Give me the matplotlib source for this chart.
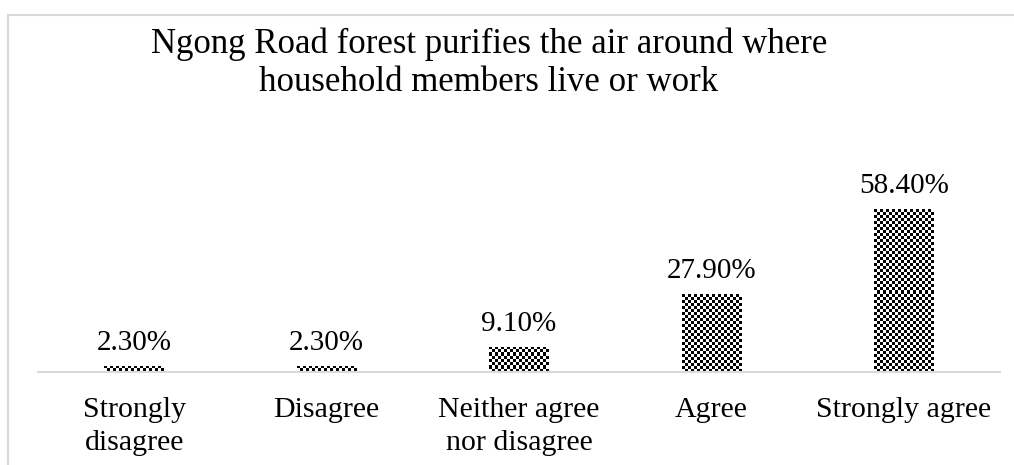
import numpy as np
import matplotlib.pyplot as plt
from matplotlib.patches import Rectangle

# ============================================================
# DATA
# ============================================================

categories = [
    "Strongly\ndisagree",
    "Disagree",
    "Neither agree\nnor disagree",
    "Agree",
    "Strongly agree",
]
percent = [2.3, 2.3, 9.1, 27.9, 58.4]
value_labels = ["2.30%", "2.30%", "9.10%", "27.90%", "58.40%"]

TITLE = ("Ngong Road forest purifies the air around where\n"
         "household members live or work")

plt.rcParams["font.family"] = ["Liberation Serif", "DejaVu Serif"]

# ============================================================
# FIGURE
# ============================================================

DPI = 100
fig = plt.figure(figsize=(10.14, 4.65), dpi=DPI)
ax = fig.add_axes([38 / 1014, 1 - 372 / 465, 962 / 1014, 272 / 465])

x = np.arange(len(categories))
bars = ax.bar(x, percent, width=0.31, color="none", edgecolor="none")

ax.set_xlim(-0.5, len(categories) - 0.5)
ax.set_ylim(0, 97.5)

# checkerboard fill, clipped to each bar
CELL = 3  # pixels per square
for bar in bars:
    x0, y0 = bar.get_x(), bar.get_y()
    w, h = bar.get_width(), bar.get_height()
    (px0, py0), (px1, py1) = ax.transData.transform([(x0, y0), (x0 + w, y0 + h)])
    nx = max(1, int(round((px1 - px0) / CELL)))
    ny = max(1, int(round((py1 - py0) / CELL)))
    ii, jj = np.indices((ny, nx))
    board = ((ii + jj) % 2).astype(float)
    im = ax.imshow(board, cmap="gray", vmin=0, vmax=1,
                   extent=(x0, x0 + w, y0, y0 + h),
                   interpolation="nearest", aspect="auto", zorder=2)
    im.set_clip_path(bar)

ax.set_aspect("auto")

for xi, val, lab in zip(x, percent, value_labels):
    ax.annotate(lab, (xi, val), xytext=(0, 7), textcoords="offset points",
                ha="center", va="bottom", fontsize=21)

ax.set_xticks(x)
ax.set_xticklabels(categories, fontsize=21.5, linespacing=1.35)
ax.tick_params(axis="x", length=0, pad=18)
ax.set_yticks([])

for side in ["left", "right", "top"]:
    ax.spines[side].set_visible(False)
ax.spines["bottom"].set_color("#d9d9d9")
ax.spines["bottom"].set_linewidth(1.5)

fig.text(489 / 1014, 1 - 63 / 465, TITLE, ha="center", va="center",
         fontsize=25, linespacing=1.2)

# light grey chart frame (cut off at right and bottom)
frame = Rectangle((8 / 1014, -0.1), 1.2, 1.1 - 15 / 465,
                  transform=fig.transFigure, fill=False,
                  edgecolor="#d9d9d9", linewidth=1.5)
fig.add_artist(frame)

fig.savefig("out.png", dpi=DPI, facecolor="white")
plt.close(fig)
